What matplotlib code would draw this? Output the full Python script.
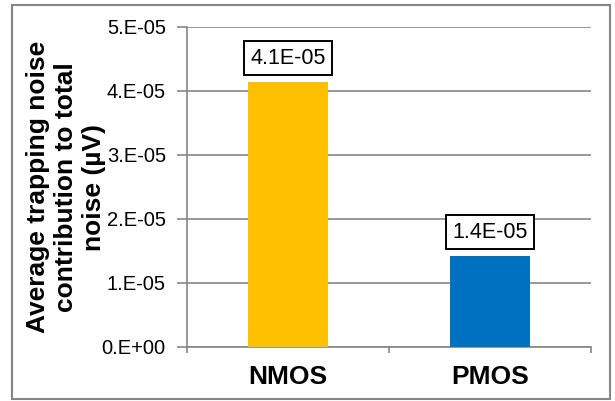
import matplotlib.pyplot as plt
from matplotlib.patches import Rectangle
from matplotlib.ticker import FixedLocator, FuncFormatter

plt.rcParams['font.family'] = ['Liberation Sans', 'DejaVu Sans']

devices = ["NMOS", "PMOS"]
noise = [4.14e-05, 1.42e-05]
colors = ["#FFC000", "#0070C0"]
y_ticks = [0, 1e-05, 2e-05, 3e-05, 4e-05, 5e-05]

grey = "#868686"

fig = plt.figure(figsize=(6.15, 4.01), dpi=100)
ax = fig.add_axes([0.304, 0.1347, 0.657, 0.798])

x = range(len(devices))
bars = ax.bar(x, noise, width=0.4, color=colors, zorder=3)

# value labels in black boxes above each bar
for xi, v in zip(x, noise):
    ax.annotate(f"{v:.1E}", (xi, v), xytext=(0, 9.5), textcoords="offset points",
                ha="center", va="bottom", fontsize=15.5,
                bbox=dict(boxstyle="square,pad=0.3", fc="white", ec="black", lw=1.4))

ax.set_xlim(-0.5, len(devices) - 0.5)
ax.set_ylim(0, 5e-05)
ax.set_yticks(y_ticks)
ax.yaxis.set_major_formatter(FuncFormatter(lambda v, p: format(v, "#.0E")))
ax.grid(axis="y", color=grey, lw=1.2, zorder=0)

ax.set_xticks(list(x))
ax.set_xticklabels(devices, fontsize=19, fontweight="bold")
ax.xaxis.set_minor_locator(FixedLocator([-0.5, 0.5, 1.5]))
ax.tick_params(axis="x", which="major", length=0, pad=13)
ax.tick_params(axis="x", which="minor", length=4.5, width=1.2, color=grey)
ax.tick_params(axis="y", length=7.2, width=1.2, color=grey, pad=8, labelsize=14.5)

for s in ["top", "right"]:
    ax.spines[s].set_visible(False)
for s in ["left", "bottom"]:
    ax.spines[s].set_color(grey)
    ax.spines[s].set_linewidth(1.2)

fig.text(66 / 615, 0.5335, "Average trapping noise\ncontribution to total\nnoise (µV)",
         rotation=90, ha="center", va="center", multialignment="center",
         fontsize=19, fontweight="bold", linespacing=1.22)

# chart border
fig.patches.append(Rectangle((12 / 615, 2 / 401), 598 / 615, 394 / 401,
                             transform=fig.transFigure, fill=False,
                             ec=grey, lw=1.5))

fig.savefig("out.png", dpi=100)
